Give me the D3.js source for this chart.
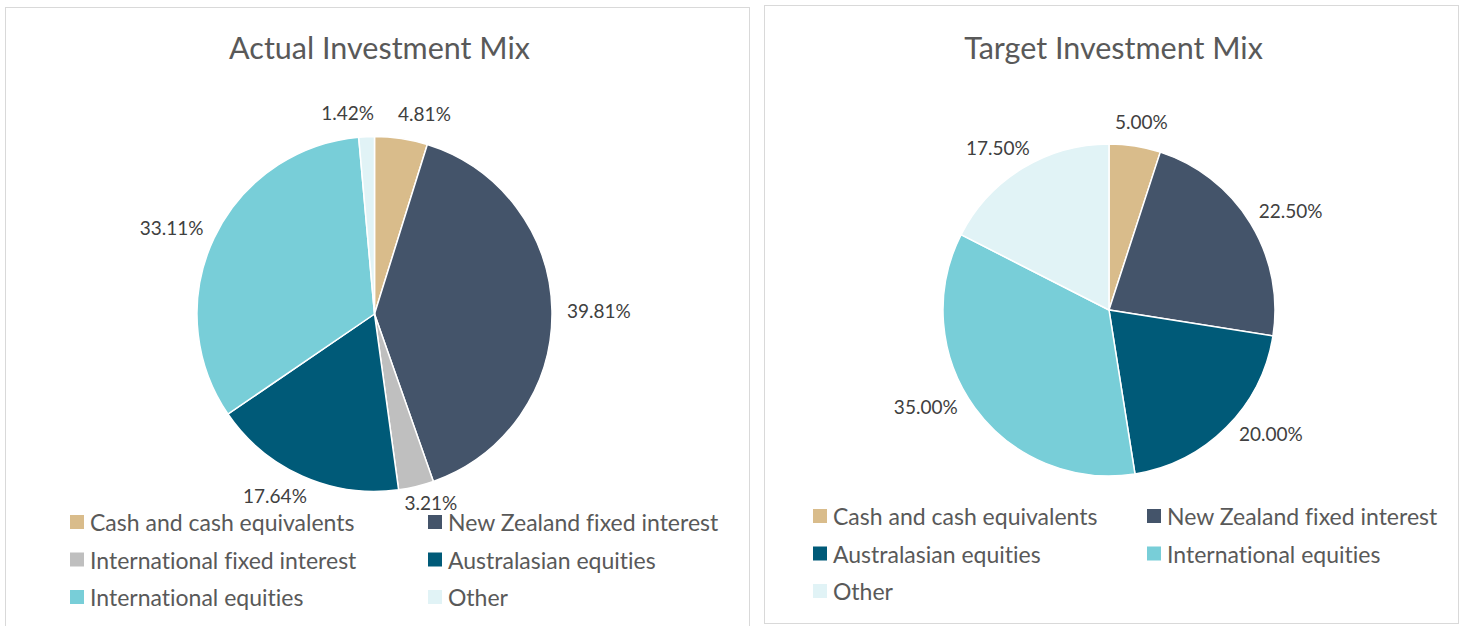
<!DOCTYPE html>
<html>
<head>
<meta charset="utf-8">
<script src="https://cdn.jsdelivr.net/npm/d3@7"></script>
<style>
  body { margin: 0; background: #fff; }
  svg { display: block; font-family: Lato, "Open Sans", sans-serif; font-variant-ligatures: none; }
</style>
</head>
<body>
<div id="chart"></div>
<script>
// actual mix
const actualCategories = ['Cash and cash equivalents', 'New Zealand fixed interest', 'International fixed interest',
    'Australasian equities', 'International equities', 'Other'];
const actualValues = [4.81, 39.81, 3.21, 17.64, 33.11, 1.42];

// target mix
const targetCategories = ['Cash and cash equivalents', 'New Zealand fixed interest', 'Australasian equities',
    'International equities', 'Other'];
const targetValues = [5.00, 22.50, 20.00, 35.00, 17.50];

const colour = d3.scaleOrdinal()
    .domain(['Cash and cash equivalents', 'New Zealand fixed interest', 'International fixed interest',
        'Australasian equities', 'International equities', 'Other'])
    .range(['#D9BC8B', '#44546A', '#BFBFBF', '#005A78', '#78CED8', '#E1F3F6']);

const svg = d3.select('#chart').append('svg')
    .attr('width', 1465)
    .attr('height', 626);

const panels = [
    {title: 'Actual Investment Mix', cats: actualCategories, vals: actualValues,
     box: [5.5, 7.5, 744, 630], cx: 374.5, cy: 314, r: 177.5, legendX: 70, legendY: 522, colGap: 358},
    {title: 'Target Investment Mix', cats: targetCategories, vals: targetValues,
     box: [764.5, 5.5, 694, 618], cx: 1109, cy: 310, r: 166, legendX: 813, legendY: 516, colGap: 334}
];

panels.forEach(p => {
    const g = svg.append('g');

    g.append('rect')
        .attr('x', p.box[0]).attr('y', p.box[1])
        .attr('width', p.box[2]).attr('height', p.box[3])
        .attr('fill', '#fff')
        .attr('stroke', '#D9D9D9');

    g.append('text')
        .attr('x', p.box[0] + p.box[2] / 2 + 2)
        .attr('y', 47)
        .attr('text-anchor', 'middle')
        .attr('dominant-baseline', 'central')
        .attr('font-size', 30.5)
        .attr('fill', '#595959')
        .text(p.title);

    const data = p.cats.map((c, i) => ({cat: c, value: p.vals[i]}));
    const pie = d3.pie().sort(null).value(d => d.value);
    const arcs = pie(data);
    const arc = d3.arc().innerRadius(0).outerRadius(p.r);

    const pg = g.append('g').attr('transform', `translate(${p.cx},${p.cy})`);

    pg.selectAll('path')
        .data(arcs)
        .join('path')
        .attr('d', arc)
        .attr('fill', d => colour(d.data.cat))
        .attr('stroke', '#fff')
        .attr('stroke-width', 1.5);

    // labels just outside the rim; lower ones drift slightly away from the bottom
    const labels = pg.selectAll('text.lbl')
        .data(arcs)
        .join('text')
        .attr('class', 'lbl')
        .attr('font-size', 19)
        .attr('fill', '#404040')
        .attr('text-anchor', 'middle')
        .attr('dominant-baseline', 'central')
        .text(d => d.data.value.toFixed(2) + '%');

    const maxY = p.legendY - 20 - p.cy;
    const R = p.r + 15;
    const boxes = [];
    labels.each(function(d) {
        let a = (d.startAngle + d.endAngle) / 2;
        if (a > Math.PI / 2 && a < 3 * Math.PI / 2) a = Math.PI + (a - Math.PI) * 1.1;
        const w = this.getComputedTextLength();
        const h = 19;
        boxes.push({
            node: this, w, h,
            x: (R + w / 2) * Math.sin(a),
            y: Math.min(maxY, -R * Math.cos(a) - (h / 2) * Math.cos(a))
        });
    });

    // push apart any labels that collide
    for (let it = 0; it < 30; it++) {
        for (let i = 0; i < boxes.length; i++) {
            for (let j = i + 1; j < boxes.length; j++) {
                const A = boxes[i], B = boxes[j];
                const ox = (A.w + B.w) / 2 + 24 - Math.abs(A.x - B.x);
                const oy = (A.h + B.h) / 2 - Math.abs(A.y - B.y);
                if (ox > 0 && oy > 0) {
                    const s = A.x < B.x ? -1 : 1;
                    A.x += s * ox / 2;
                    B.x -= s * ox / 2;
                    A.y -= 1;
                }
            }
        }
    }
    boxes.forEach(b => d3.select(b.node).attr('x', b.x).attr('y', b.y));

    // legend, two columns
    const lg = g.append('g');
    data.forEach((d, i) => {
        const col = i % 2, row = Math.floor(i / 2);
        const x = p.legendX + col * p.colGap;
        const y = p.legendY + row * 37.5;
        lg.append('rect')
            .attr('x', x).attr('y', y - 7)
            .attr('width', 14).attr('height', 14)
            .attr('fill', colour(d.cat));
        lg.append('text')
            .attr('x', x + 20).attr('y', y)
            .attr('dominant-baseline', 'central')
            .attr('font-size', 23)
            .attr('fill', '#595959')
            .text(d.cat);
    });
});
</script>
</body>
</html>
